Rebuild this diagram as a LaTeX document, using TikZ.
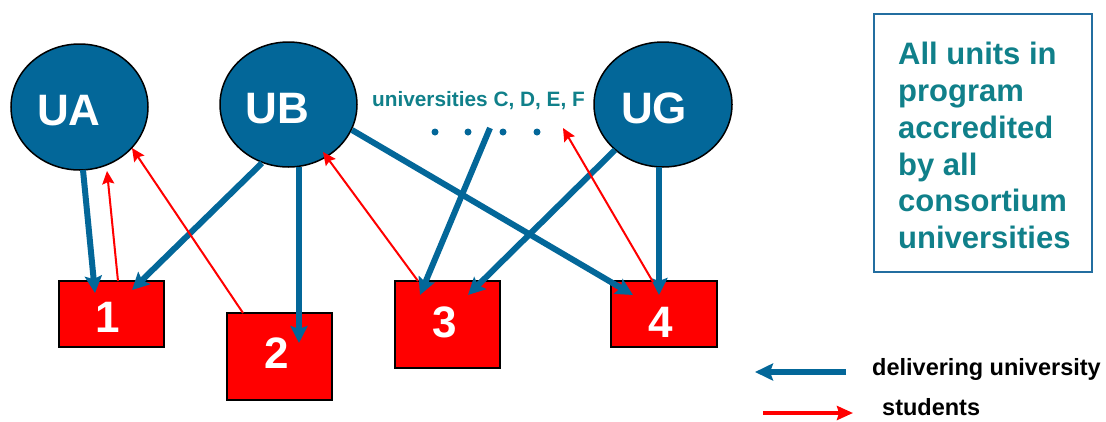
\documentclass[tikz,border=0pt]{standalone}
\usepackage{fontspec}
\setmainfont{Liberation Sans}
\usetikzlibrary{arrows.meta,calc,shapes.geometric}
\definecolor{ublue}{RGB}{3,103,153}
\definecolor{uteal}{RGB}{16,128,138}
\definecolor{boxblue}{RGB}{35,110,160}
\begin{document}
\begin{tikzpicture}[x=1pt,y=-1pt,
  uni/.style={ellipse, draw=black, line width=1.5pt, fill=ublue, inner sep=0pt},
  bigtxt/.style={text=white, font=\bfseries\fontsize{44}{44}\selectfont, inner sep=0pt, anchor=base},
  unitbox/.style={rectangle, draw=black, line width=2pt, fill=red, inner sep=0pt},
  deliver/.style={draw=ublue, line width=6pt, -{Stealth[length=17pt,width=17pt,inset=3pt]}},
  stud/.style={draw=red, line width=2pt, -{Stealth[length=13pt,width=12pt,inset=2pt]}},
  dotnode/.style={circle, fill=ublue, inner sep=0pt, minimum size=7pt}]
\useasboundingbox (0,0) rectangle (1106,421);

% universities
\node[uni, minimum width=137pt, minimum height=126pt] (UA) at (79.5,107) {};
\node[uni, minimum width=137pt, minimum height=125pt] (UB) at (288.5,104.5) {};
\node[uni, minimum width=138pt, minimum height=125pt] (UG) at (663,104.5) {};
\node[bigtxt] (UAt) at (69,125) {UA};
\node[bigtxt] (UBt) at (277.5,123.3) {UB};
\node[bigtxt] (UGt) at (654,123) {UG};

% units
\node[unitbox, minimum width=105pt, minimum height=66pt] (b1) at (111.5,314) {};
\node[unitbox, minimum width=105pt, minimum height=87pt] (b2) at (279.5,356.5) {};
\node[unitbox, minimum width=105pt, minimum height=87pt] (b3) at (447.5,324.5) {};
\node[unitbox, minimum width=106pt, minimum height=66pt] (b4) at (664,314) {};
\node[bigtxt] (n1) at (107.5,332) {1};
\node[bigtxt] (n2) at (277,368) {2};
\node[bigtxt] (n3) at (445,337) {3};
\node[bigtxt] (n4) at (661,337) {4};

% other universities
\node[font=\bfseries\fontsize{20.8}{20.8}\selectfont, text=uteal, anchor=base, inner sep=0pt] (others) at (478.5,106) {universities C, D, E, F};
\node[dotnode] (d1) at (435,132) {};
\node[dotnode] (d2) at (468,132) {};
\node[dotnode] (d3) at (503,132) {};
\node[dotnode] (d4) at (537,132) {};
\coordinate (cdots) at (490,128);
\coordinate (credtip) at (563,128);

% delivering university arrows
\draw[deliver] ($(UA.center)+(3.5,63)$) -- ($(b1.center)+(-16.5,-21)$);
\draw[deliver] ($(UB.center)+(-26.5,58.5)$) -- ($(b1.center)+(20.5,-24)$);
\draw[deliver] ($(UB.center)+(10.5,62.5)$) -- ($(b2.center)+(19.5,-13.5)$);
\draw[deliver] ($(UB.center)+(63.5,25.5)$) -- ($(b4.center)+(-31,-19)$);
\draw[deliver] (cdots) -- ($(b3.center)+(-27.5,-29.5)$);
\draw[deliver] ($(UG.center)+(-48,45.5)$) -- ($(b3.center)+(20.5,-29.5)$);
\draw[deliver] ($(UG.center)+(-4,62.5)$) -- ($(b4.center)+(-5,-19)$);

% student arrows
\draw[stud] ($(b1.center)+(6.5,-33)$) -- ($(UA.center)+(27.5,64)$);
\draw[stud] ($(b2.center)+(-36.5,-43.5)$) -- ($(UA.center)+(52.5,41)$);
\draw[stud] ($(b3.center)+(-29.5,-43.5)$) -- ($(UB.center)+(34.5,47.5)$);
\draw[stud] ($(b4.center)+(-11,-32)$) -- (credtip);

% note box
\node[draw=boxblue, line width=2.5pt, minimum width=218pt, minimum height=258pt, inner sep=0pt] (note) at (983,143) {};
\node[anchor=north west, inner sep=0pt, align=left, text=uteal, font=\bfseries\fontsize{31}{36.8}\selectfont] (notetxt) at (898,42) {All units in\\program\\accredited\\by all\\consortium\\universities};

% legend
\node[anchor=base west, inner sep=0pt, font=\bfseries\fontsize{23.5}{23.5}\selectfont] (legdel) at (872,375) {delivering university};
\node[anchor=base west, inner sep=0pt, font=\bfseries\fontsize{23.5}{23.5}\selectfont] (legstu) at (882,415.5) {students};
\coordinate (lb0) at (846,372);
\coordinate (lb1) at (755,372);
\coordinate (lr0) at (763,413);
\coordinate (lr1) at (853,413);
\draw[deliver, -{Stealth[length=18pt,width=17pt,inset=3pt]}] (lb0) -- (lb1);
\draw[stud, line width=3.5pt, -{Stealth[length=16pt,width=14pt,inset=2pt]}] (lr0) -- (lr1);
\end{tikzpicture}
\end{document}
